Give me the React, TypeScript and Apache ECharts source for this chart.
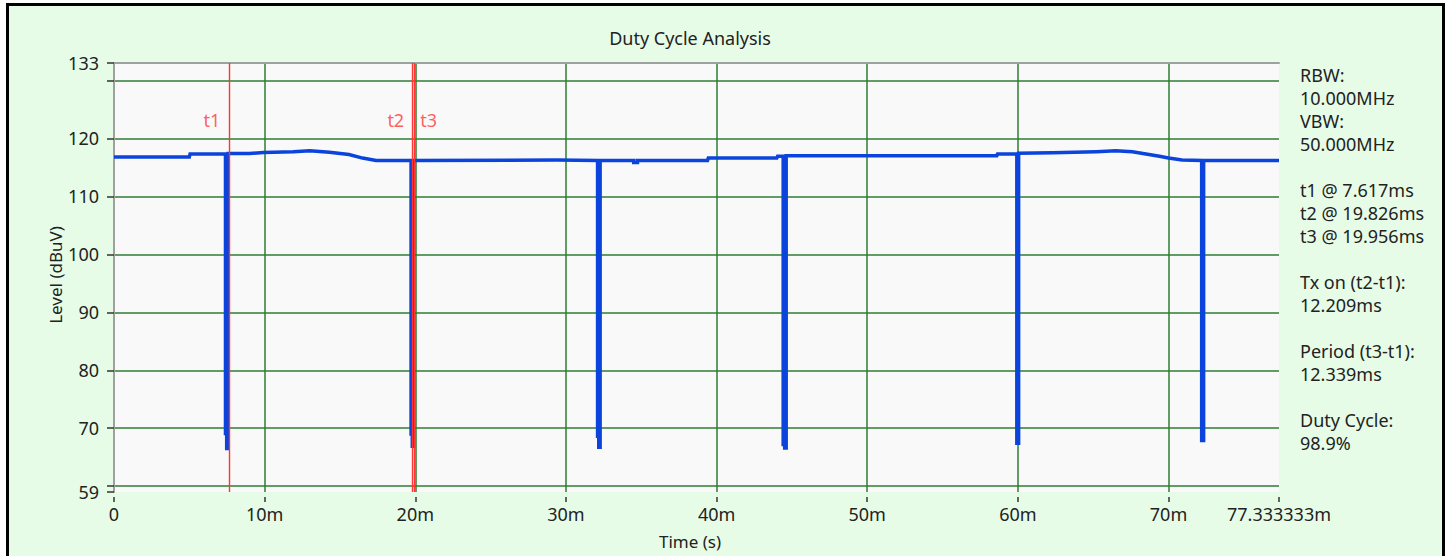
import React, { useEffect, useRef } from "react";
import * as echarts from "echarts";

// ---- data ----
const timeMs: number[] = [
  0, 5.0, 5.05, 7.4,
  7.4, 7.48, 7.48, 7.58, 7.58,
  9.0, 9.9, 11.9, 13.0, 14.3, 15.6, 16.5, 17.4, 19.72,
  19.72, 19.8, 19.8, 19.88, 19.88,
  29.4, 32.1,
  32.1, 32.18, 32.18, 32.27, 32.27,
  34.5, 34.5, 34.75, 34.75, 39.4, 39.45, 44.0, 44.05, 44.42,
  44.42, 44.52, 44.52, 44.62, 44.62,
  58.6, 58.65, 59.93,
  59.93, 60.05, 60.05,
  62.3, 65.2, 66.5, 67.6, 68.5, 69.4, 70.0, 70.9, 72.2,
  72.2, 72.33, 72.33,
  77.333333,
];
const levelDb: number[] = [
  116.8, 116.8, 117.3, 117.3,
  69.1, 69.1, 66.5, 66.5, 117.4,
  117.4, 117.55, 117.7, 117.85, 117.6, 117.2, 116.6, 116.2, 116.2,
  69.0, 69.0, 66.9, 66.9, 116.2,
  116.25, 116.2,
  68.6, 68.6, 66.7, 66.7, 116.2,
  116.2, 115.85, 115.85, 116.2, 116.2, 116.6, 116.6, 116.9, 116.9,
  67.2, 67.2, 66.6, 66.6, 117.0,
  117.0, 117.3, 117.3,
  67.4, 67.4, 117.45,
  117.5, 117.7, 117.85, 117.7, 117.3, 116.9, 116.6, 116.25, 116.2,
  67.9, 67.9, 116.2,
  116.2,
];

const markerNames = ["t1", "t2", "t3"];
const markerTimes = [7.617, 19.826, 19.956];
const markerLabelSide = ["left", "left", "right"];
const markerLabelLevel = 123.2;

const infoLines = [
  "RBW:",
  "10.000MHz",
  "VBW:",
  "50.000MHz",
  "",
  "t1 @ 7.617ms",
  "t2 @ 19.826ms",
  "t3 @ 19.956ms",
  "",
  "Tx on (t2-t1):",
  "12.209ms",
  "",
  "Period (t3-t1):",
  "12.339ms",
  "",
  "Duty Cycle:",
  "98.9%",
];

const X_MIN = 0;
const X_MAX = 77.333333;
const Y_MIN = 59;
const Y_MAX = 133;

const FONT = "'Noto Sans', 'DejaVu Sans', sans-serif";
const TEXT = "#222";
const GRID_GREEN = "#2e7d32";
const BORDER_GRAY = "#a0a0a0";
const TRACE_BLUE = "#0a44dc";
const MARK_RED = "#ff3535";

export default function App() {
  const ref = useRef<HTMLDivElement>(null);

  useEffect(() => {
    if (!ref.current) return;
    const chart = echarts.init(ref.current, undefined, { renderer: "svg" });

    const trace = timeMs.map((t, i) => [t, levelDb[i]]);
    const markerLabels = markerTimes.map((t, i) => ({
      value: [t, markerLabelLevel],
      name: markerNames[i],
      label: {
        position: markerLabelSide[i],
        distance: markerLabelSide[i] === "left" ? 8 : 5,
      },
    }));

    chart.setOption({
      animation: false,
      backgroundColor: "transparent",
      grid: {
        left: 105,
        top: 57,
        width: 1165,
        height: 429,
        show: true,
        backgroundColor: "#f9f9f9",
        borderWidth: 0,
      },
      xAxis: [
        {
          type: "value",
          min: X_MIN,
          max: X_MAX,
          minInterval: 10,
          maxInterval: 10,
          splitNumber: 8,
          position: "bottom",
          offset: 5,
          axisLine: { show: false },
          axisTick: { show: true, length: 5, lineStyle: { color: "#333", width: 1.5 } },
          axisLabel: {
            show: true,
            margin: 8,
            color: TEXT,
            fontSize: 18,
            fontFamily: FONT,
            showMinLabel: true,
            showMaxLabel: true,
            formatter: (v: number) =>
              v === 0 ? "0" : Math.abs(v - X_MAX) < 1e-6 ? "77.333333m" : `${v}m`,
          },
          splitLine: {
            show: true,
            showMinLine: false,
            showMaxLine: false,
            lineStyle: { color: GRID_GREEN, width: 1.5 },
          },
        },
        {
          type: "value",
          min: X_MIN,
          max: X_MAX,
          position: "top",
          axisLine: { show: true, lineStyle: { color: BORDER_GRAY, width: 2 } },
          axisTick: { show: false },
          axisLabel: { show: false },
          splitLine: { show: false },
        },
      ],
      yAxis: [
        {
          type: "value",
          min: Y_MIN,
          max: Y_MAX,
          minInterval: 10,
          maxInterval: 10,
          splitNumber: 7,
          position: "left",
          offset: 3,
          axisLine: { show: false },
          axisTick: { show: true, length: 7, lineStyle: { color: "#333", width: 1.5 } },
          axisLabel: {
            show: true,
            margin: 12,
            color: TEXT,
            fontSize: 18,
            fontFamily: FONT,
            showMinLabel: true,
            showMaxLabel: true,
            formatter: (v: number) => (v === 60 || v === 130 ? "" : `${v}`),
          },
          splitLine: {
            show: true,
            showMinLine: false,
            showMaxLine: false,
            lineStyle: { color: GRID_GREEN, width: 1.5 },
          },
        },
        {
          type: "value",
          min: Y_MIN,
          max: Y_MAX,
          position: "left",
          axisLine: { show: true, lineStyle: { color: BORDER_GRAY, width: 2 } },
          axisTick: { show: false },
          axisLabel: { show: false },
          splitLine: { show: false },
        },
      ],
      series: [
        {
          type: "line",
          xAxisIndex: 0,
          yAxisIndex: 0,
          data: trace,
          showSymbol: false,
          symbol: "none",
          lineStyle: { color: TRACE_BLUE, width: 3.5, join: "miter" },
          z: 3,
          markLine: {
            silent: true,
            symbol: ["none", "none"],
            label: { show: false },
            lineStyle: { color: MARK_RED, width: 1.4, type: "solid", opacity: 1 },
            data: markerTimes.map((t) => ({ xAxis: t })),
            z: 4,
          },
        },
        {
          type: "scatter",
          xAxisIndex: 0,
          yAxisIndex: 0,
          data: markerLabels,
          symbolSize: 1,
          itemStyle: { color: "rgba(0,0,0,0)" },
          silent: true,
          label: {
            show: true,
            formatter: (p: any) => p.name,
            color: MARK_RED,
            fontSize: 18,
            fontFamily: FONT,
          },
          z: 5,
        },
      ],
      graphic: [
        {
          type: "text",
          x: 681,
          y: 32,
          style: {
            text: "Duty Cycle Analysis",
            fill: TEXT,
            font: `18px ${FONT}`,
            align: "center",
            verticalAlign: "middle",
          },
        },
        {
          type: "text",
          x: 681,
          y: 535,
          style: {
            text: "Time (s)",
            fill: TEXT,
            font: `17px ${FONT}`,
            align: "center",
            verticalAlign: "middle",
          },
        },
        {
          type: "text",
          x: 46,
          y: 269,
          rotation: Math.PI / 2,
          style: {
            text: "Level (dBuV)",
            fill: TEXT,
            font: `17px ${FONT}`,
            align: "center",
            verticalAlign: "middle",
          },
        },
        {
          type: "text",
          x: 1291,
          y: 57.5,
          style: {
            text: infoLines.join("\n"),
            fill: TEXT,
            font: `18px ${FONT}`,
            lineHeight: 23,
            align: "left",
            verticalAlign: "top",
          },
        },
      ],
    });

    return () => chart.dispose();
  }, []);

  return (
    <div
      style={{
        position: "absolute",
        left: 6,
        top: 3,
        width: 1433,
        height: 553,
        borderLeft: "3px solid #000",
        borderTop: "3px solid #000",
        borderRight: "3px solid #000",
        background: "#e7fce7",
        overflow: "hidden",
      }}
    >
      <div ref={ref} style={{ width: 1433, height: 550 }} />
    </div>
  );
}
